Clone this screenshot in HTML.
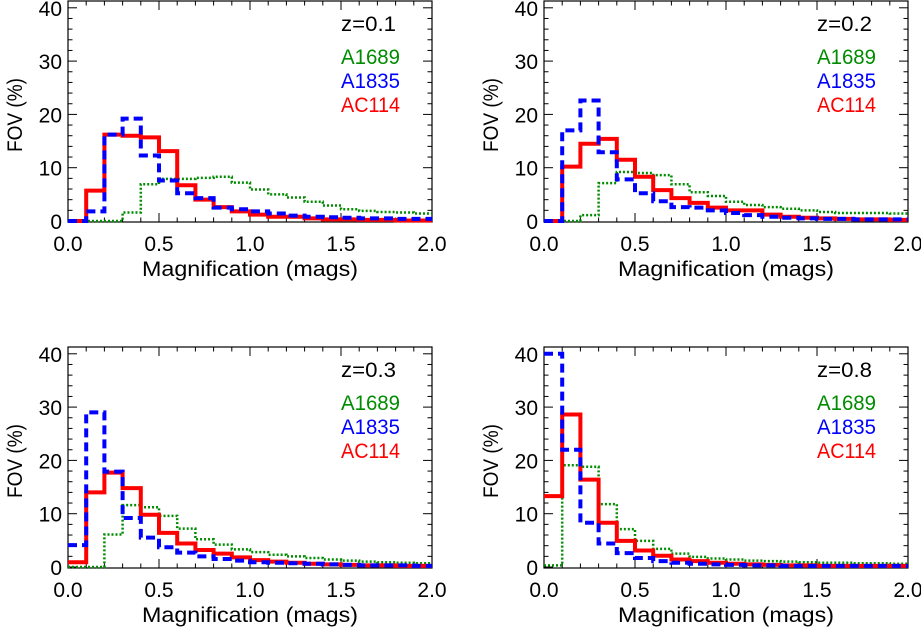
<!DOCTYPE html>
<html><head><meta charset="utf-8"><style>
html,body{margin:0;padding:0;background:#fff;}
svg text{font-family:"Liberation Sans","DejaVu Sans",sans-serif;}
</style></head><body>
<svg id="chart" width="921" height="630" xmlns="http://www.w3.org/2000/svg"></svg>
<script>
const bins = [0.0,0.1,0.2,0.3,0.4,0.5,0.6,0.7,0.8,0.9,1.0,1.1,1.2,1.3,1.4,1.5,1.6,1.7,1.8,1.9];
const xTicks = [0.0,0.5,1.0,1.5,2.0];
const xTickLabels = ["0.0","0.5","1.0","1.5","2.0"];
const yTicks = [0,10,20,30,40];
const yTickLabels = ["0","10","20","30","40"];
const panelTitles = ["z=0.1","z=0.2","z=0.3","z=0.8"];
const seriesNames = ["A1689","A1835","AC114"];
const a1689_z01 = [0,0,0,1.6,6.9,7.9,7.9,8.1,8.3,7.2,5.9,5.0,4.4,3.6,2.9,2.2,1.9,1.7,1.6,1.4];
const a1835_z01 = [0,1.8,16.2,19.2,12.3,7.6,5.2,4.3,2.5,2.2,1.8,1.4,1.0,0.8,0.7,0.6,0.5,0.5,0.4,0.4];
const ac114_z01 = [0,5.7,16.2,16.0,15.7,13.1,6.7,4.0,2.6,1.8,1.2,0.8,0.8,0.5,0.3,0.3,0.2,0.2,0.1,0.1];
const a1689_z02 = [0,0,1.1,7.1,9.2,9.0,8.6,6.9,5.4,4.7,3.6,3.0,2.6,2.3,2.0,1.7,1.5,1.5,1.5,1.4];
const a1835_z02 = [0,17.0,22.6,12.9,7.8,5.2,3.7,2.6,2.5,2.0,1.5,1.1,0.8,0.6,0.5,0.4,0.4,0.3,0.3,0.3];
const ac114_z02 = [0,10.2,14.5,15.4,11.5,8.3,5.8,4.3,3.4,2.5,2.0,2.0,1.2,0.8,0.6,0.5,0.4,0.3,0.3,0.2];
const a1689_z03 = [0,0,6.1,11.6,11.2,9.6,7.2,5.2,4.2,3.3,2.8,2.3,2.0,1.7,1.4,1.2,1.0,0.9,0.8,0.7];
const a1835_z03 = [4.1,29.0,17.9,9.2,5.5,3.7,2.7,2.0,1.5,1.2,0.9,0.8,0.7,0.6,0.5,0.4,0.3,0.3,0.3,0.2];
const ac114_z03 = [0.9,14.0,17.7,14.8,9.8,6.4,4.4,3.2,2.5,1.8,1.3,1.0,0.8,0.6,0.5,0.4,0.3,0.3,0.2,0.2];
const a1689_z08 = [0.3,19.1,18.8,11.8,7.1,4.9,3.4,2.5,1.9,1.6,1.4,1.2,1.1,1.0,0.9,0.8,0.8,0.7,0.7,0.6];
const a1835_z08 = [40,22.0,8.3,4.4,2.6,1.7,1.1,0.8,0.6,0.5,0.4,0.3,0.3,0.2,0.2,0.2,0.2,0.2,0.2,0.2];
const ac114_z08 = [13.3,28.6,16.4,8.3,4.9,3.1,2.1,1.4,1.1,0.8,0.6,0.5,0.4,0.3,0.3,0.2,0.2,0.2,0.2,0.2];

const NS="http://www.w3.org/2000/svg";
const svg=document.getElementById('chart');
function mk(tag,attrs,parent){const e=document.createElementNS(NS,tag);for(const k in attrs)e.setAttribute(k,attrs[k]);parent.appendChild(e);return e;}

const panels=[
 {ox:0,oy:0,clip:446,title:panelTitles[0],data:[a1689_z01,a1835_z01,ac114_z01]},
 {ox:476,oy:0,clip:921,title:panelTitles[1],data:[a1689_z02,a1835_z02,ac114_z02]},
 {ox:0,oy:346,clip:446,title:panelTitles[2],data:[a1689_z03,a1835_z03,ac114_z03]},
 {ox:476,oy:346,clip:921,title:panelTitles[3],data:[a1689_z08,a1835_z08,ac114_z08]}
];
const colors=["#008c00","#0000ff","#ff0000"];
const styles=[{w:2.5,d:"2 2"},{w:4,d:"9 5"},{w:4,d:""}];
const drawOrder=[0,2,1];

panels.forEach((p,pi)=>{
  const g=mk('g',{},svg);
  
  
  const L=68+p.ox, R=432+p.ox, B=222+p.oy, T=1+p.oy;
  const X=v=>L+(R-L)*v/2.0;
  const Y=v=>221+p.oy-v*5.33;
  const cid='clip'+pi;
  const cp=mk('clipPath',{id:cid},svg);
  mk('rect',{x:p.ox,y:p.oy-10,width:p.clip-p.ox,height:300},cp);
  const inner=mk('g',{'clip-path':'url(#'+cid+')'},g);
  // frame
  const fr=mk('rect',{x:L,y:T,width:R-L,height:B-T,fill:'none',stroke:'#000','stroke-width':1.2},inner);
  
  
  // x ticks
  for(let i=0;i<=20;i++){
    const v=i*0.1, x=X(v), len=(i%5===0)?9:4.5;
    mk('line',{x1:x,y1:B,x2:x,y2:B-len,stroke:'#000','stroke-width':1},inner);
    mk('line',{x1:x,y1:T,x2:x,y2:T+len,stroke:'#000','stroke-width':1},inner);
  }
  xTicks.forEach((v,i)=>{
    const t=mk('text',{x:X(v),y:251+p.oy,'font-size':21,'text-anchor':'middle',fill:'#000'},inner);
    t.textContent=xTickLabels[i];
    
    
  });
  // y ticks
  for(let v=0;v<=40;v+=2){
    const y=Y(v), len=(v%10===0)?9:4.5;
    mk('line',{x1:L,y1:y,x2:L+len,y2:y,stroke:'#000','stroke-width':1},inner);
    mk('line',{x1:R,y1:y,x2:R-len,y2:y,stroke:'#000','stroke-width':1},inner);
  }
  yTicks.forEach((v,i)=>{
    const t=mk('text',{x:L-6,y:Y(v)+8,'font-size':21,'text-anchor':'end',fill:'#000'},inner);
    t.textContent=yTickLabels[i];
    
    
  });
  // axis titles
  const xt=mk('text',{x:(L+R)/2-0,y:276+p.oy,'font-size':21,'text-anchor':'middle',fill:'#000',textLength:216,lengthAdjust:'spacingAndGlyphs'},inner);
  xt.textContent='Magnification (mags)';
  
  
  const yt=mk('text',{x:0,y:0,'font-size':21,'text-anchor':'middle',fill:'#000',transform:'translate('+(22+p.ox)+','+(115+p.oy)+') rotate(-90)',textLength:74,lengthAdjust:'spacingAndGlyphs'},inner);
  yt.textContent='FOV (%)';
  
  
  // series
  drawOrder.forEach(si=>{
    const vals=p.data[si];
    let d='M'+X(bins[0])+','+Y(vals[0]);
    vals.forEach((v,i)=>{
      if(i>0) d+=' L'+X(bins[i])+','+Y(v);
      d+=' L'+X(bins[i]+0.1)+','+Y(v);
    });
    const path=mk('path',{d:d,fill:'none',stroke:colors[si],'stroke-width':styles[si].w,'stroke-dasharray':styles[si].d},inner);
    
    
  });
  // legend
  const lx=341+p.ox;
  const zt=mk('text',{x:lx,y:31+p.oy,'font-size':21,fill:'#000',textLength:55,lengthAdjust:'spacingAndGlyphs'},inner);
  zt.textContent=p.title;
  
  
  seriesNames.forEach((n,si)=>{
    const t=mk('text',{x:lx,y:64+p.oy+si*24,'font-size':21,fill:colors[si],textLength:59,lengthAdjust:'spacingAndGlyphs'},inner);
    t.textContent=n;
    
    
  });
});
</script>
</body></html>
